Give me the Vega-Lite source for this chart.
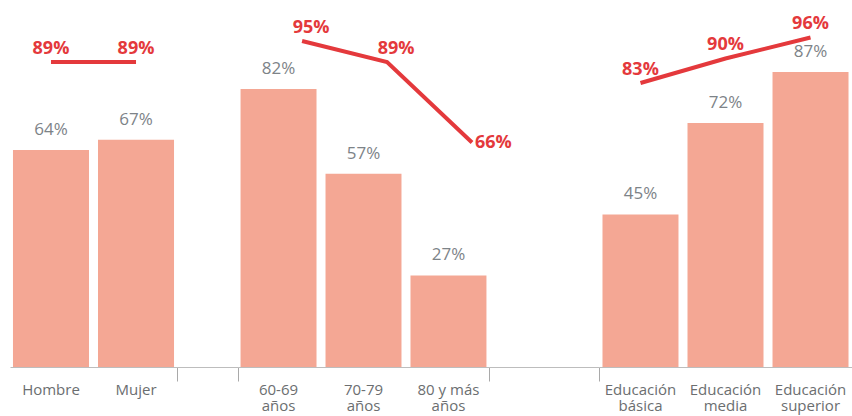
{
  "$schema": "https://vega.github.io/schema/vega-lite/v6.json",
  "padding": {"left": 10, "top": 11, "right": 0, "bottom": 2},
  "spacing": 0,
  "bounds": "flush",
  "config": {"view": {"stroke": null}, "font": "Open Sans"},
  "datasets": {
    "d": [
      {"grupo": "sexo", "cat": "Hombre", "barra": 0.64, "linea": 0.89},
      {"grupo": "sexo", "cat": "Mujer", "barra": 0.67, "linea": 0.89},
      {"grupo": "edad", "cat": "60-69 años", "barra": 0.82, "linea": 0.95},
      {"grupo": "edad", "cat": "70-79 años", "barra": 0.57, "linea": 0.89},
      {"grupo": "edad", "cat": "80 y más años", "barra": 0.27, "linea": 0.66},
      {"grupo": "educ", "cat": "Educación básica", "barra": 0.45, "linea": 0.83},
      {"grupo": "educ", "cat": "Educación media", "barra": 0.72, "linea": 0.90},
      {"grupo": "educ", "cat": "Educación superior", "barra": 0.87, "linea": 0.96}
    ]
  },
  "hconcat": [
    {
      "width": 167, "height": 356,
      "data": {"name": "d"},
      "transform": [{"filter": "datum.grupo === 'sexo'"}],
      "encoding": {
        "x": {"field": "cat", "type": "nominal", "sort": null,
          "scale": {"paddingInner": 0.106, "paddingOuter": 0.035},
          "axis": {"title": null, "ticks": false, "domainColor": "#bdbdbd", "domainWidth": 1, "labelAngle": 0, "labelFontSize": 15, "labelColor": "#6b6e70", "labelPadding": 15, "labelLineHeight": 16, "labelFont": "Open Sans", "labelOverlap": false,
            "labelExpr": "indexof(datum.label, ' años') > 0 ? [replace(datum.label, ' años', ''), 'años'] : split(datum.label, ' ')"}}
      },
      "layer": [
        {"layer": [
          {"mark": {"type": "bar", "color": "#F4A794"},
           "encoding": {"y": {"field": "barra", "type": "quantitative", "scale": {"domain": [0, 1.05]}, "axis": null}}},
          {"mark": {"type": "text", "baseline": "alphabetic", "dy": -15, "fontSize": 17, "color": "#7d8388"},
           "encoding": {"y": {"field": "barra", "type": "quantitative", "scale": {"domain": [0, 1.05]}, "axis": null},
             "text": {"field": "barra", "type": "quantitative", "format": ".0%"}}}
        ]},
        {"layer": [
          {"mark": {"type": "line", "color": "#E4393C", "strokeWidth": 4, "strokeCap": "butt"},
           "encoding": {"y": {"field": "linea", "type": "quantitative", "scale": {"domain": [0.01857, 1.0357]}, "axis": null}}},
          {"mark": {"type": "text", "baseline": "alphabetic", "dy": -8, "fontSize": 18, "fontWeight": "bold", "color": "#E4393C"},
           "encoding": {"y": {"field": "linea", "type": "quantitative", "scale": {"domain": [0.01857, 1.0357]}, "axis": null},
             "text": {"field": "linea", "type": "quantitative", "format": ".0%"}}}
        ]}
      ],
      "resolve": {"scale": {"y": "independent"}}
    },
    {
      "width": 61, "height": 356,
      "data": {"values": []},
      "mark": "point",
      "encoding": {"x": {"field": "v", "type": "quantitative", "scale": {"domain": [0, 1], "nice": false, "zero": false},
        "axis": {"values": [0, 1], "labels": false, "grid": false, "ticks": true, "tickSize": 14, "tickColor": "#a9a9a9", "domainColor": "#bdbdbd", "domainWidth": 1, "title": null}}}
    },
    {
      "width": 251, "height": 356,
      "data": {"name": "d"},
      "transform": [{"filter": "datum.grupo === 'edad'"}],
      "encoding": {
        "x": {"field": "cat", "type": "nominal", "sort": null,
          "scale": {"paddingInner": 0.106, "paddingOuter": 0.03},
          "axis": {"title": null, "ticks": false, "domainColor": "#bdbdbd", "domainWidth": 1, "labelAngle": 0, "labelFontSize": 15, "labelColor": "#6b6e70", "labelPadding": 15, "labelLineHeight": 16, "labelFont": "Open Sans", "labelOverlap": false,
            "labelExpr": "indexof(datum.label, ' años') > 0 ? [replace(datum.label, ' años', ''), 'años'] : split(datum.label, ' ')"}}
      },
      "layer": [
        {"layer": [
          {"mark": {"type": "bar", "color": "#F4A794"},
           "encoding": {"y": {"field": "barra", "type": "quantitative", "scale": {"domain": [0, 1.05]}, "axis": null}}},
          {"mark": {"type": "text", "baseline": "alphabetic", "dy": -15, "fontSize": 17, "color": "#7d8388"},
           "encoding": {"y": {"field": "barra", "type": "quantitative", "scale": {"domain": [0, 1.05]}, "axis": null},
             "text": {"field": "barra", "type": "quantitative", "format": ".0%"}}}
        ]},
        {"layer": [
          {"mark": {"type": "line", "color": "#E4393C", "strokeWidth": 4, "strokeCap": "butt"},
           "encoding": {"x": {"field": "cat", "type": "nominal", "sort": null, "bandPosition": 0.81},
             "y": {"field": "linea", "type": "quantitative", "scale": {"domain": [0.01857, 1.0357]}, "axis": null}}},
          {"transform": [{"filter": "datum.cat !== '80 y más años'"}],
           "mark": {"type": "text", "baseline": "alphabetic", "dy": -8, "dx": 9, "fontSize": 18, "fontWeight": "bold", "color": "#E4393C"},
           "encoding": {"x": {"field": "cat", "type": "nominal", "sort": null, "bandPosition": 0.81},
             "y": {"field": "linea", "type": "quantitative", "scale": {"domain": [0.01857, 1.0357]}, "axis": null},
             "text": {"field": "linea", "type": "quantitative", "format": ".0%"}}},
          {"transform": [{"filter": "datum.cat === '80 y más años'"}],
           "mark": {"type": "text", "baseline": "alphabetic", "align": "left", "dy": 6, "dx": 3, "fontSize": 18, "fontWeight": "bold", "color": "#E4393C"},
           "encoding": {"x": {"field": "cat", "type": "nominal", "sort": null, "bandPosition": 0.81},
             "y": {"field": "linea", "type": "quantitative", "scale": {"domain": [0.01857, 1.0357]}, "axis": null},
             "text": {"field": "linea", "type": "quantitative", "format": ".0%"}}}
        ]}
      ],
      "resolve": {"scale": {"y": "independent"}}
    },
    {
      "width": 110, "height": 356,
      "data": {"values": []},
      "mark": "point",
      "encoding": {"x": {"field": "v", "type": "quantitative", "scale": {"domain": [0, 1], "nice": false, "zero": false},
        "axis": {"values": [0, 1], "labels": false, "grid": false, "ticks": true, "tickSize": 14, "tickColor": "#a9a9a9", "domainColor": "#bdbdbd", "domainWidth": 1, "title": null}}}
    },
    {
      "width": 253, "height": 356,
      "data": {"name": "d"},
      "transform": [{"filter": "datum.grupo === 'educ'"}],
      "encoding": {
        "x": {"field": "cat", "type": "nominal", "sort": null,
          "scale": {"paddingInner": 0.106, "paddingOuter": 0.041},
          "axis": {"title": null, "ticks": false, "domainColor": "#bdbdbd", "domainWidth": 1, "labelAngle": 0, "labelFontSize": 15, "labelColor": "#6b6e70", "labelPadding": 15, "labelLineHeight": 16, "labelFont": "Open Sans", "labelOverlap": false,
            "labelExpr": "indexof(datum.label, ' años') > 0 ? [replace(datum.label, ' años', ''), 'años'] : split(datum.label, ' ')"}}
      },
      "layer": [
        {"layer": [
          {"mark": {"type": "bar", "color": "#F4A794"},
           "encoding": {"y": {"field": "barra", "type": "quantitative", "scale": {"domain": [0, 1.05]}, "axis": null}}},
          {"mark": {"type": "text", "baseline": "alphabetic", "dy": -15, "fontSize": 17, "color": "#7d8388"},
           "encoding": {"y": {"field": "barra", "type": "quantitative", "scale": {"domain": [0, 1.05]}, "axis": null},
             "text": {"field": "barra", "type": "quantitative", "format": ".0%"}}}
        ]},
        {"layer": [
          {"mark": {"type": "line", "color": "#E4393C", "strokeWidth": 4, "strokeCap": "butt"},
           "encoding": {"y": {"field": "linea", "type": "quantitative", "scale": {"domain": [0.01857, 1.0357]}, "axis": null}}},
          {"mark": {"type": "text", "baseline": "alphabetic", "dy": -8, "fontSize": 18, "fontWeight": "bold", "color": "#E4393C"},
           "encoding": {"y": {"field": "linea", "type": "quantitative", "scale": {"domain": [0.01857, 1.0357]}, "axis": null},
             "text": {"field": "linea", "type": "quantitative", "format": ".0%"}}}
        ]}
      ],
      "resolve": {"scale": {"y": "independent"}}
    }
  ]
}
